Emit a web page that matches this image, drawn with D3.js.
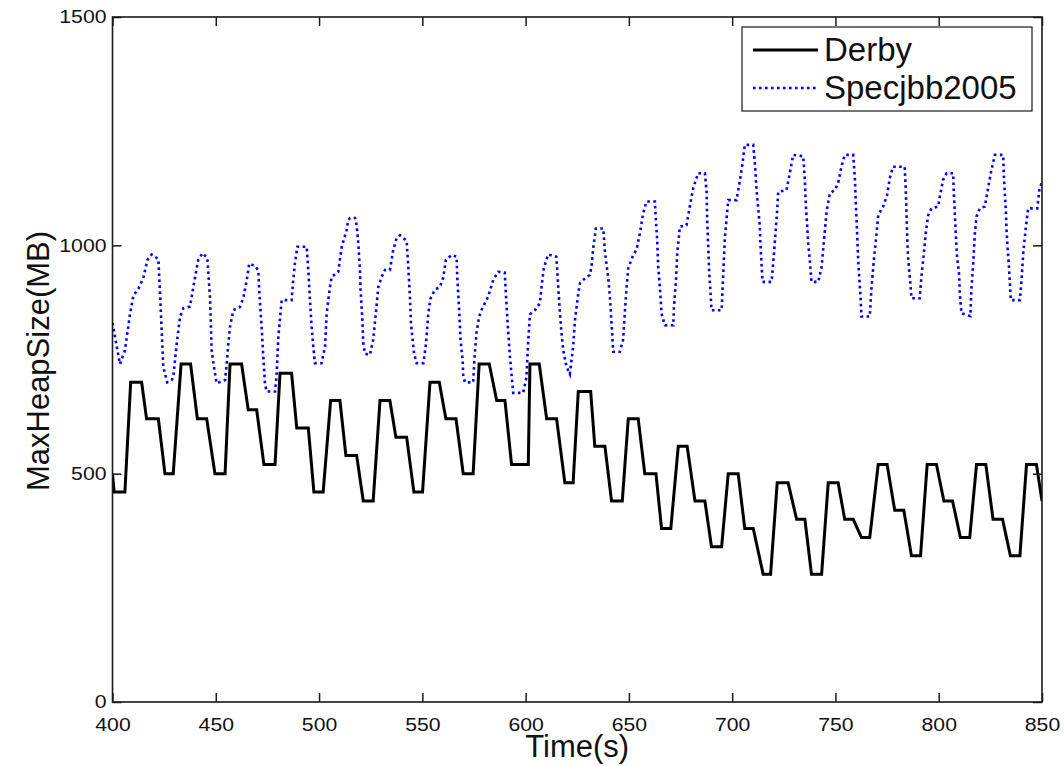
<!DOCTYPE html>
<html>
<head>
<meta charset="utf-8">
<script src="https://cdn.jsdelivr.net/npm/d3@7"></script>
<style>
    body { margin: 0; background: #fff; }
    svg { display: block; font-family: "Liberation Sans", Arial, Helvetica, sans-serif; }
</style>
</head>
<body>
<div class="chart-wrapper"></div>
<script>
// axis ticks
const xTicks = [400, 450, 500, 550, 600, 650, 700, 750, 800, 850];
const yTicks = [0, 500, 1000, 1500];

// series names
const seriesNames = ["Derby", "Specjbb2005"];

// derby: [time (s), max heap size (MB)]
const derbyPoints = [
    [400, 500], [400.8, 460], [406, 460], [408.8, 700], [414.1, 700], [416.5, 620], [422.2, 620],
    [425.4, 500], [429.4, 500], [433.2, 740], [437.8, 740], [441.1, 620], [445.6, 620], [449.6, 500],
    [454.5, 500], [456.9, 740], [462.5, 740], [465.7, 640], [469.8, 640], [473.3, 520], [478.7, 520],
    [481.1, 720], [486.7, 720], [489.2, 600], [494.8, 600], [497.5, 460], [502, 460], [505.6, 660],
    [510.1, 660], [513, 540], [518.2, 540], [521.4, 440], [526.2, 440], [529.5, 660], [534.3, 660],
    [537.2, 580], [542.4, 580], [545.9, 460], [550.1, 460], [553.7, 700], [558.2, 700], [561.4, 620],
    [566.3, 620], [569.8, 500], [574.6, 500], [577.5, 740], [582.4, 740], [586, 660], [590, 660],
    [593.2, 520], [601.3, 520], [602.1, 740], [606.6, 740], [610.2, 620], [615, 620], [619, 480],
    [623, 480], [625.5, 680], [631.5, 680], [633.5, 560], [638.4, 560], [641.6, 440], [646.8, 440],
    [649.7, 620], [654.5, 620], [657.7, 500], [663.1, 500], [665.8, 380], [670.3, 380], [673.9, 560],
    [678.2, 560], [682, 440], [686.8, 440], [690, 340], [694.9, 340], [698.1, 500], [702.9, 500],
    [706.1, 380], [710.2, 380], [715, 280], [718.6, 280], [721.8, 480], [727.1, 480], [731.2, 400],
    [735.2, 400], [738.4, 280], [743.3, 280], [746.5, 480], [751.3, 480], [754.5, 400], [758.6, 400],
    [762.6, 360], [766.6, 360], [770.7, 520], [775, 520], [778.7, 420], [783.1, 420], [786.8, 320],
    [791.2, 320], [794.4, 520], [798.9, 520], [802.5, 440], [806.7, 440], [810.5, 360], [815, 360],
    [818.3, 520], [822.8, 520], [826.3, 400], [830.9, 400], [834.7, 320], [839.3, 320], [842.5, 520],
    [847.3, 520], [850, 440]
];

// specjbb2005: [time (s), max heap size (MB)]
const specPoints = [
    [400, 830], [403.6, 740], [406, 770], [408.5, 850], [410.1, 890], [412.5, 905], [414.9, 928],
    [416.9, 968], [419, 980], [422.2, 970], [423, 895], [423.8, 815], [424.6, 734], [426.5, 700],
    [428.6, 705], [429.4, 711], [431.1, 785], [432.7, 844], [434.3, 862], [437.5, 866], [438.3, 887],
    [439.9, 928], [441.5, 968], [443.6, 983], [445.9, 972], [447.2, 887], [448, 771], [449.1, 734],
    [450.4, 698], [454.5, 705], [455.3, 742], [456.1, 785], [456.9, 822], [458.5, 858], [461.7, 865],
    [463.3, 884], [465, 924], [466.2, 960], [469, 955], [470.6, 945], [471.1, 895], [472.2, 822],
    [473, 757], [473.8, 698], [474.6, 680], [478.7, 680], [479.5, 720], [480.3, 800], [481.1, 840],
    [481.9, 880], [486.7, 880], [487.5, 924], [488.3, 960], [489.5, 997], [494, 997], [494.8, 945],
    [495.6, 880], [496.4, 822], [497.2, 779], [498, 742], [501.2, 742], [502.9, 779], [503.7, 852],
    [505.3, 909], [506.1, 931], [509.3, 942], [510.9, 995], [513.3, 1033], [514.1, 1055], [515, 1060],
    [517.4, 1060], [518.2, 1044], [519, 1004], [519.8, 946], [520.1, 903], [520.6, 866], [521.1, 826],
    [521.4, 786], [522.2, 763], [524.6, 760], [526.2, 793], [527.5, 852], [528.7, 909], [530.3, 931],
    [531.9, 946], [534.3, 946], [535.9, 990], [537.5, 1015], [539.2, 1022], [542.4, 1010], [543.2, 953],
    [544, 887], [544.5, 829], [545.3, 793], [546, 763], [547.2, 742], [550.5, 742], [551.8, 785],
    [552.9, 852], [554, 884], [556.1, 903], [558.5, 909], [560.1, 929], [561.4, 968], [564.2, 979],
    [566.6, 975], [566.9, 931], [567.9, 852], [568.5, 793], [569.5, 749], [569.8, 716], [570.6, 700],
    [574.6, 700], [575.4, 763], [576.2, 807], [577.5, 844], [578.6, 858], [581.8, 887], [584.3, 924],
    [586.7, 942], [589.9, 940], [590.7, 873], [591.5, 815], [592.4, 757], [593.2, 716], [594, 677],
    [598.8, 677], [600.4, 711], [601.2, 785], [602.1, 849], [604.5, 858], [606.9, 873], [607.7, 909],
    [608.8, 950], [610.9, 980], [614.9, 975], [615.8, 909], [616.6, 852], [617.4, 807], [618.2, 771],
    [619.8, 734], [621.4, 718], [623, 778], [623.9, 836], [625.5, 895], [626.3, 917], [629.5, 931],
    [631.1, 935], [631.9, 953], [632.7, 993], [634, 1037], [637.6, 1037], [638.4, 986], [640, 928],
    [640.8, 888], [641.6, 829], [642.1, 793], [642.4, 767], [645.6, 767], [647.2, 793], [648, 851],
    [648.9, 909], [649.7, 950], [652.1, 979], [653.7, 990], [655.3, 1026], [656.9, 1070], [658.5, 1096],
    [662.6, 1096], [663.1, 1052], [663.7, 1012], [664.2, 953], [665, 909], [665.8, 851], [667.4, 825],
    [671.5, 825], [671.8, 865], [672.8, 924], [673.4, 982], [674.7, 1041], [677.9, 1044], [679.5, 1085],
    [681.1, 1125], [683.5, 1158], [686.8, 1158], [687.6, 1118], [687.9, 1055], [688.4, 997], [688.9, 939],
    [689.5, 898], [690, 858], [694.9, 858], [695.7, 939], [696.5, 1019], [698.1, 1099], [702.1, 1099],
    [703.8, 1143], [705, 1179], [706.1, 1220], [710.2, 1220], [711, 1179], [711.8, 1121], [712.6, 1081],
    [713.4, 1041], [713.7, 1001], [714.2, 960], [714.7, 920], [719.1, 920], [720.2, 979], [721.2, 1041],
    [721.8, 1077], [722.3, 1117], [726.3, 1121], [727.9, 1158], [729.5, 1198], [734.4, 1195], [735.2, 1143],
    [735.7, 1085], [736.3, 1044], [736.8, 1004], [737.6, 968], [738.4, 920], [741.7, 920], [743.3, 953],
    [744.1, 993], [744.9, 1033], [745.7, 1074], [747.3, 1114], [749.7, 1121], [751.3, 1136], [752.9, 1172],
    [754.5, 1198], [758.6, 1198], [759.4, 1147], [759.9, 1088], [760.5, 1026], [761, 968], [761.5, 931],
    [762.1, 891], [762.6, 844], [766.6, 844], [767.5, 909], [768.6, 968], [769.9, 1026], [770.7, 1066],
    [773.1, 1085], [775, 1110], [776.3, 1147], [777.9, 1172], [783.5, 1172], [784, 1128], [784.4, 1070],
    [784.8, 1011], [785.2, 971], [786, 931], [786.8, 884], [790.8, 884], [791.6, 931], [792.8, 982],
    [793.7, 1026], [794.9, 1066], [796.5, 1081], [799.7, 1085], [800.5, 1106], [802.1, 1143], [803.8, 1158],
    [807, 1158], [807.3, 1114], [807.8, 1070], [808.3, 1019], [808.9, 975], [809.9, 935], [810.2, 895],
    [811, 851], [815.3, 845], [815.8, 902], [816.7, 960], [817.5, 1026], [818.3, 1063], [819.9, 1081],
    [822.3, 1085], [823.9, 1125], [825.5, 1165], [827.2, 1198], [831.2, 1198], [831.5, 1154], [832, 1114],
    [832.5, 1077], [832.8, 1037], [833.3, 997], [833.9, 960], [834.4, 920], [834.9, 880], [839.3, 880],
    [840.1, 924], [840.9, 982], [842.2, 1041], [843.3, 1081], [847.7, 1081], [848.7, 1121], [850, 1140]
];

// svg and plot dimensions
const svgWidth = 1064;
const svgHeight = 766;
const margin = { top: 17, right: 22, bottom: 64, left: 112.5 };
const innerWidth = svgWidth - margin.left - margin.right;
const innerHeight = svgHeight - margin.top - margin.bottom;
const axisColor = "#1a1a1a";

const svg = d3.select(".chart-wrapper")
    .append("svg")
    .attr("width", svgWidth)
    .attr("height", svgHeight);

svg.append("rect")
    .attr("width", svgWidth)
    .attr("height", svgHeight)
    .attr("fill", "#fff");

const chart = svg.append("g")
    .attr("transform", `translate(${margin.left},${margin.top})`);

// scales
const xScale = d3.scaleLinear()
    .domain([400, 850])
    .range([0, innerWidth]);

const yScale = d3.scaleLinear()
    .domain([0, 1500])
    .range([innerHeight, 0]);

// clip for the lines
chart.append("clipPath")
    .attr("id", "plot-clip")
    .append("rect")
    .attr("width", innerWidth)
    .attr("height", innerHeight);

const line = d3.line()
    .x(d => xScale(d[0]))
    .y(d => yScale(d[1]));

// specjbb dotted blue line
chart.append("path")
    .datum(specPoints)
    .attr("clip-path", "url(#plot-clip)")
    .attr("fill", "none")
    .attr("stroke", "#0000ff")
    .attr("stroke-width", 2.6)
    .attr("stroke-dasharray", "2.6,3.4")
    .attr("d", line);

// derby solid black line
chart.append("path")
    .datum(derbyPoints)
    .attr("clip-path", "url(#plot-clip)")
    .attr("fill", "none")
    .attr("stroke", "#000")
    .attr("stroke-width", 3)
    .attr("stroke-linejoin", "miter")
    .attr("d", line);

// tick label width in the picture is wider than the font, so stretch it
function styleTickText(sel) {
    sel.selectAll("text")
        .style("font-size", "18px")
        .attr("fill", "#111")
        .attr("textLength", d => String(d).length * 11.8)
        .attr("lengthAdjust", "spacingAndGlyphs");
}

// bottom axis (inward ticks)
chart.append("g")
    .attr("transform", `translate(0,${innerHeight})`)
    .call(d3.axisBottom(xScale).tickValues(xTicks).tickSize(-9).tickPadding(16).tickFormat(d3.format("d")))
    .call(g => g.select(".domain").remove())
    .call(g => g.selectAll(".tick line").attr("stroke", axisColor).attr("stroke-width", 1.5))
    .call(styleTickText);

// top axis ticks only
chart.append("g")
    .call(d3.axisTop(xScale).tickValues(xTicks).tickSize(-9).tickFormat(""))
    .call(g => g.select(".domain").remove())
    .call(g => g.selectAll(".tick line").attr("stroke", axisColor).attr("stroke-width", 1.5));

// left axis
chart.append("g")
    .call(d3.axisLeft(yScale).tickValues(yTicks).tickSize(-9).tickPadding(6).tickFormat(d3.format("d")))
    .call(g => g.select(".domain").remove())
    .call(g => g.selectAll(".tick line").attr("stroke", axisColor).attr("stroke-width", 1.5))
    .call(styleTickText);

// right axis ticks only
chart.append("g")
    .attr("transform", `translate(${innerWidth},0)`)
    .call(d3.axisRight(yScale).tickValues(yTicks).tickSize(-9).tickFormat(""))
    .call(g => g.select(".domain").remove())
    .call(g => g.selectAll(".tick line").attr("stroke", axisColor).attr("stroke-width", 1.5));

// plot frame
chart.append("rect")
    .attr("width", innerWidth)
    .attr("height", innerHeight)
    .attr("fill", "none")
    .attr("stroke", axisColor)
    .attr("stroke-width", 1.6);

// axis titles
svg.append("text")
    .attr("x", margin.left + innerWidth / 2)
    .attr("y", 757)
    .attr("text-anchor", "middle")
    .style("font-size", "31px")
    .attr("fill", "#111")
    .text("Time(s)");

svg.append("text")
    .attr("transform", "rotate(-90)")
    .attr("x", -361)
    .attr("y", 49)
    .attr("text-anchor", "middle")
    .style("font-size", "31px")
    .attr("fill", "#111")
    .text("MaxHeapSize(MB)");

// legend
const legend = svg.append("g")
    .attr("transform", "translate(742,27)");

legend.append("rect")
    .attr("width", 290)
    .attr("height", 84)
    .attr("fill", "#fff")
    .attr("stroke", axisColor)
    .attr("stroke-width", 1.2);

const legendStyles = [
    { stroke: "#000", dash: null, width: 3 },
    { stroke: "#0000ff", dash: "2.6,3.4", width: 2.6 }
];

seriesNames.forEach((name, i) => {
    const rowY = 23 + i * 38;
    legend.append("line")
        .attr("x1", 11)
        .attr("x2", 76)
        .attr("y1", rowY)
        .attr("y2", rowY)
        .attr("stroke", legendStyles[i].stroke)
        .attr("stroke-width", legendStyles[i].width)
        .attr("stroke-dasharray", legendStyles[i].dash);
    legend.append("text")
        .attr("x", 82)
        .attr("y", rowY + 11)
        .style("font-size", "33px")
        .attr("fill", "#111")
        .text(name);
});
</script>
</body>
</html>
